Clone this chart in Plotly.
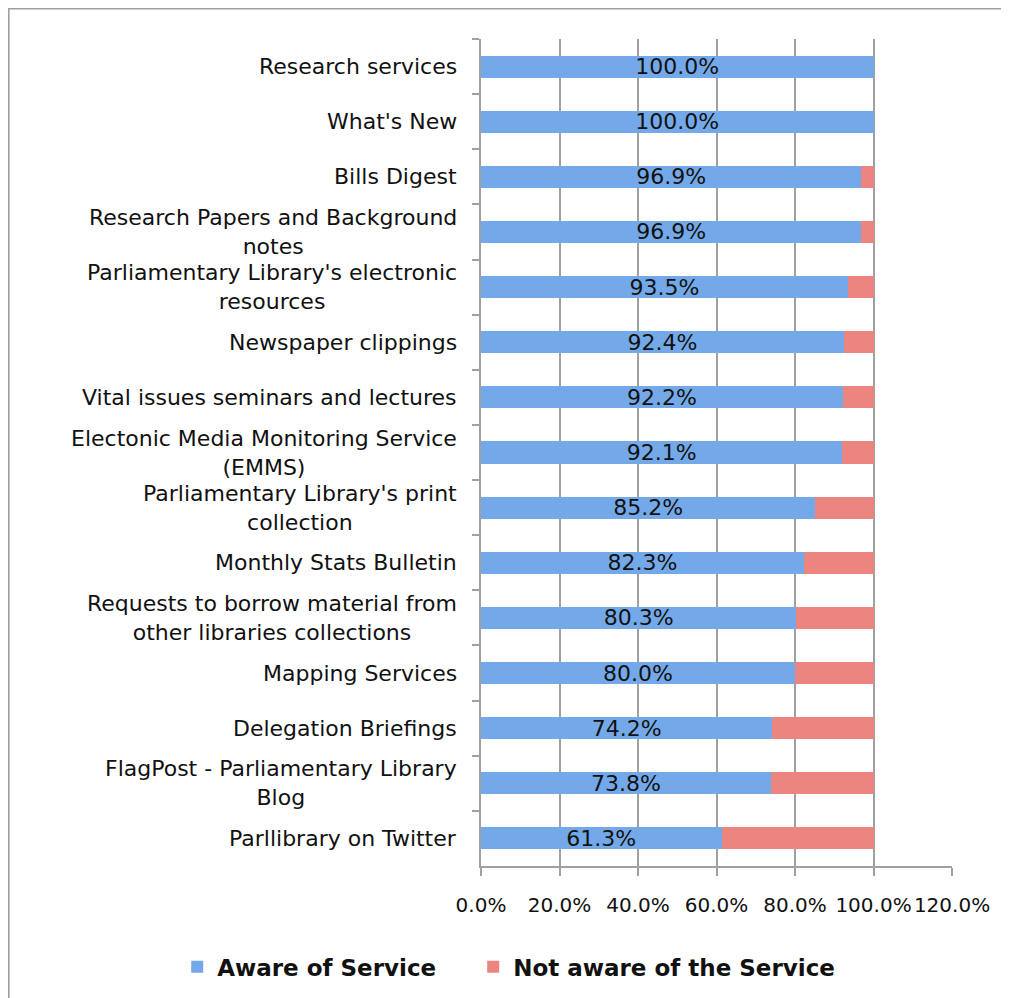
"""
Awareness of Parliamentary Library services — horizontal 100% stacked bars.
"""
import plotly.graph_objects as go

# ---------------------------------------------------------------------------
# Data
# ---------------------------------------------------------------------------
services = [
    "Research services",
    "What's New",
    "Bills Digest",
    "Research Papers and Background<br>notes",
    "Parliamentary Library's electronic<br>resources",
    "Newspaper clippings",
    "Vital issues seminars and lectures",
    "Electonic Media Monitoring Service<br>(EMMS)",
    "Parliamentary Library's print<br>collection",
    "Monthly Stats Bulletin",
    "Requests to borrow material from<br>other libraries collections",
    "Mapping Services",
    "Delegation Briefings",
    "FlagPost - Parliamentary Library<br>Blog",
    "Parllibrary on Twitter",
]
aware = [1.000, 1.000, 0.969, 0.969, 0.935, 0.924, 0.922, 0.921,
         0.852, 0.823, 0.803, 0.800, 0.742, 0.738, 0.613]
not_aware = [round(1 - a, 3) for a in aware]

x_ticks = [0, 0.2, 0.4, 0.6, 0.8, 1.0, 1.2]
x_tick_text = ["0.0%", "20.0%", "40.0%", "60.0%", "80.0%", "100.0%", "120.0%"]

FONT = "DejaVu Sans, Verdana, sans-serif"
GRID = "#a0a0a0"
NBSP = "\u00a0"

# ---------------------------------------------------------------------------
# Figure
# ---------------------------------------------------------------------------
fig = go.Figure()
fig.add_trace(go.Bar(
    y=services, x=aware, orientation="h",
    name="Aware of Service" + NBSP * 4,   # padding to widen the legend gap
    marker=dict(color="#74a9e9", line=dict(width=0)),
    text=[f"{a * 100:.1f}%" for a in aware],
    textposition="inside", insidetextanchor="middle", constraintext="none",
    textfont=dict(family=FONT, size=22, color="#111111"),
))
fig.add_trace(go.Bar(
    y=services, x=not_aware, orientation="h", name="Not aware of the Service",
    marker=dict(color="#ec8580", line=dict(width=0)),
    textposition="none",
))

# Category labels as annotations so wrapped lines centre on each other
for s in services:
    fig.add_annotation(
        x=-0.047, xref="paper", y=s, yref="y", text=s, showarrow=False,
        xanchor="right", yanchor="middle", align="center",
        font=dict(family=FONT, size=22, color="#111111"),
    )

# Outer chart frame (Excel-style border)
fig.add_shape(type="rect", xref="paper", yref="paper",
              x0=-1.004, x1=1.2, y0=-0.2, y1=1.0375,
              line=dict(color=GRID, width=3), layer="below")

fig.update_layout(
    barmode="stack", bargap=0.6,
    width=1009, height=998,
    margin=dict(l=473, r=65, t=31, b=140),
    paper_bgcolor="white", plot_bgcolor="white",
    font=dict(family=FONT, size=20, color="#111111"),
    showlegend=True,
    legend=dict(orientation="h", x=-0.645, xanchor="left",
                y=-0.122, yanchor="middle", traceorder="normal",
                font=dict(family=FONT, size=23, weight="bold", color="#111111"),
                itemwidth=30),
    xaxis=dict(range=[0, 1.2], tickvals=x_ticks, ticktext=x_tick_text,
               showgrid=True, gridcolor=GRID, gridwidth=2,
               showline=True, linecolor=GRID, linewidth=2,
               ticks="outside", ticklen=8, tickwidth=2, tickcolor=GRID,
               ticklabelstandoff=12, zeroline=False,
               tickfont=dict(family=FONT, size=20)),
    yaxis=dict(autorange="reversed", showticklabels=False,
               showline=True, linecolor=GRID, linewidth=2,
               ticks="outside", ticklen=7, tickwidth=2, tickcolor=GRID,
               tickson="boundaries", showgrid=False),
)

fig.write_html("out.html")
